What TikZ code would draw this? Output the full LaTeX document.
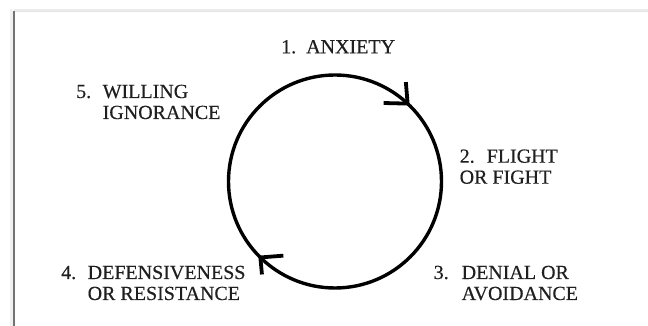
\documentclass[tikz,border=0pt]{standalone}
\usepackage{fontspec}
\setmainfont{Liberation Serif}
\newfontfamily\stagefont[FakeBold=0.35]{Liberation Serif}
\usetikzlibrary{calc}

\tikzset{
  stage/.style={inner sep=0pt, anchor=base west, text=black!88,
    font=\stagefont\fontsize{20}{21}\selectfont},
  ring/.style={line width=3.4pt, black},
  barb/.style={line width=3.8pt, black, line join=miter, line cap=butt},
}

\begin{document}
\begin{tikzpicture}[x=1pt,y=1pt]
  \useasboundingbox (0,0) rectangle (648,326);
  \fill[white] (0,0) rectangle (648,326);

  % page edge with soft shadow
  \draw[black!6, line width=3pt] (11.5,0) -- (11.5,317);
  \draw[black!55, line width=1.3pt] (14,0) -- (14,314.5) -- (648,314.5);
  \draw[black!8, line width=2pt] (14,316) -- (648,316);
  \draw[white, line width=0.8pt] (15,0) -- (15,313.5);
  \draw[black!10, line width=1.2pt] (14.6,314.3) -- (648,314.3);

  % the cycle
  \coordinate (c) at (335,144.5);
  \draw[ring] (c) circle[radius=106.5];

  % open arrowheads on the ring, pointing clockwise
  \coordinate (t1) at ($(c)+(47:106.5)$);
  \coordinate (t2) at ($(c)+(225.5:106.5)$);
  \draw[barb] ($(t1)+(-1.8,21.5)$) -- (t1) -- ($(t1)+(-24,0.6)$);
  \draw[barb] ($(t2)+(1.6,-17)$) -- (t2) -- ($(t2)+(23,1.8)$);

  % stages
  \node[stage] (s1) at (281,272.7)
    {\begin{tabular}[t]{@{}p{25pt}@{}l@{}}1.&ANXIETY\end{tabular}};
  \node[stage] (s2) at (459.5,163.3)
    {\begin{tabular}[t]{@{}p{27pt}@{}l@{}}2.&FLIGHT\\\multicolumn{2}{@{}l@{}}{OR FIGHT}\end{tabular}};
  \node[stage] (s3) at (433.5,47)
    {\begin{tabular}[t]{@{}p{28pt}@{}l@{}}3.&DENIAL OR\\&AVOIDANCE\end{tabular}};
  \node[stage] (s4) at (61,47)
    {\begin{tabular}[t]{@{}p{26.5pt}@{}l@{}}4.&DEFENSIVENESS\\&OR RESISTANCE\end{tabular}};
  \node[stage] (s5) at (76,228)
    {\begin{tabular}[t]{@{}p{26.5pt}@{}l@{}}5.&WILLING\\&IGNORANCE\end{tabular}};
\end{tikzpicture}
\end{document}
